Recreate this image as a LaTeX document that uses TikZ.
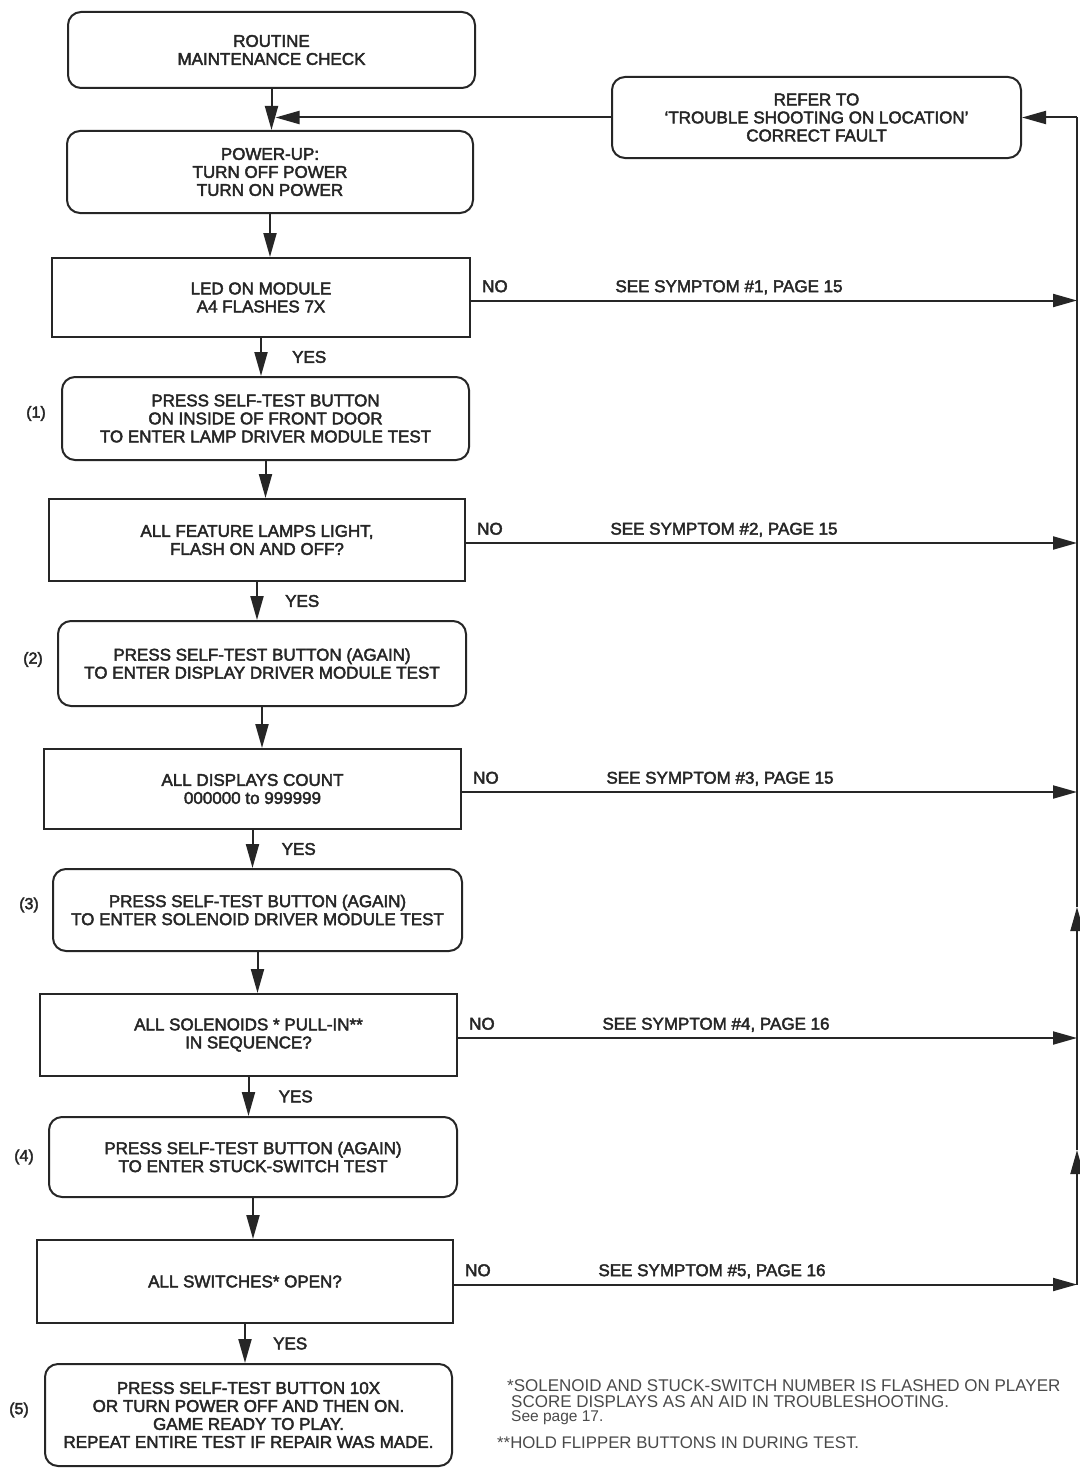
\documentclass[tikz,border=0pt]{standalone}
\usepackage{fontspec}
\setmainfont{Liberation Sans}
\newfontfamily\boxfont{Liberation Sans}[FakeBold=2.5]
\usetikzlibrary{arrows.meta,calc}
\definecolor{ink}{HTML}{262626}
\definecolor{note}{HTML}{4A4A4A}
\begin{document}
\begin{tikzpicture}[x=1pt,y=-1pt,
  every node/.style={text=ink, font=\boxfont\fontsize{17}{18}\selectfont},
  rbox/.style={draw=ink, line width=2pt, rounded corners=13pt, align=center, inner sep=0pt},
  dbox/.style={draw=ink, line width=2pt, align=center, inner sep=0pt},
  conn/.style={draw=ink, line width=2pt},
  arr/.style={conn, -{Triangle[length=24pt,width=13pt,fill=ink]}},
  lbl/.style={inner sep=0pt},
  yes/.style={lbl, anchor=west},
  num/.style={lbl, font=\boxfont\fontsize{16}{18}\selectfont},
  fn/.style={lbl, anchor=west, align=left, text=note, font=\fontsize{17}{16}\selectfont}
]
\useasboundingbox (0,0) rectangle (1079,1469);
\fill[white] (0,0) rectangle (1079,1469);
\coordinate (rail) at (1077,0);

% boxes
\node[rbox, minimum width=407pt, minimum height=76pt] (routine) at (271.5,50) {ROUTINE\\MAINTENANCE CHECK};
\node[rbox, minimum width=409pt, minimum height=81pt] (refer) at (816.5,117.5) {REFER TO\\‘TROUBLE SHOOTING ON LOCATION’\\CORRECT FAULT};
\node[rbox, minimum width=406pt, minimum height=82pt] (power) at (270,172) {POWER-UP:\\TURN OFF POWER\\TURN ON POWER};
\node[dbox, minimum width=418pt, minimum height=79pt] (led) at (261,297.5) {LED ON MODULE\\A4 FLASHES 7X};
\node[rbox, minimum width=407pt, minimum height=83pt] (p1) at (265.5,418.5) {PRESS SELF-TEST BUTTON\\ON INSIDE OF FRONT DOOR\\TO ENTER LAMP DRIVER MODULE TEST};
\node[dbox, minimum width=416pt, minimum height=82pt] (feat) at (257,540) {ALL FEATURE LAMPS LIGHT,\\FLASH ON AND OFF?};
\node[rbox, minimum width=408pt, minimum height=85pt] (p2) at (262,663.5) {PRESS SELF-TEST BUTTON (AGAIN)\\TO ENTER DISPLAY DRIVER MODULE TEST};
\node[dbox, minimum width=417pt, minimum height=80pt] (disp) at (252.5,789) {ALL DISPLAYS COUNT\\000000 to 999999};
\node[rbox, minimum width=409pt, minimum height=82pt] (p3) at (257.5,910) {PRESS SELF-TEST BUTTON (AGAIN)\\TO ENTER SOLENOID DRIVER MODULE TEST};
\node[dbox, minimum width=417pt, minimum height=82pt] (sol) at (248.5,1035) {ALL SOLENOIDS * PULL-IN**\\IN SEQUENCE?};
\node[rbox, minimum width=408pt, minimum height=80pt] (p4) at (253,1157) {PRESS SELF-TEST BUTTON (AGAIN)\\TO ENTER STUCK-SWITCH TEST};
\node[dbox, minimum width=416pt, minimum height=83pt] (sw) at (245,1281.5) {ALL SWITCHES* OPEN?};
\node[rbox, minimum width=407pt, minimum height=102pt] (p5) at (248.5,1415) {PRESS SELF-TEST BUTTON 10X\\OR TURN POWER OFF AND THEN ON.\\GAME READY TO PLAY.\\REPEAT ENTIRE TEST IF REPAIR WAS MADE.};

% step numbers
\node[num] (n1) at ($(p1.west)+(-25,-5)$) {(1)};
\node[num] (n2) at ($(p2.west)+(-24,-4)$) {(2)};
\node[num] (n3) at ($(p3.west)+(-23,-5)$) {(3)};
\node[num] (n4) at ($(p4.west)+(-24,0)$) {(4)};
\node[num] (n5) at ($(p5.west)+(-25,-5)$) {(5)};

% vertical flow
\coordinate (j) at (routine.south |- refer.west);
\draw[arr] (routine.south) -- (routine.south |- power.north);
\draw[arr] (power.south) -- (power.south |- led.north);
\draw[arr] (led.south) -- (led.south |- p1.north);
\draw[arr] (p1.south) -- (p1.south |- feat.north);
\draw[arr] (feat.south) -- (feat.south |- p2.north);
\draw[arr] (p2.south) -- (p2.south |- disp.north);
\draw[arr] (disp.south) -- (disp.south |- p3.north);
\draw[arr] (p3.south) -- (p3.south |- sol.north);
\draw[arr] (sol.south) -- (sol.south |- p4.north);
\draw[arr] (p4.south) -- (p4.south |- sw.north);
\draw[arr] (sw.south) -- (sw.south |- p5.north);

% YES labels
\node[yes] (y1) at ($(led.south)!0.5!(led.south |- p1.north)+(31,0)$) {YES};
\node[yes] (y2) at ($(feat.south)!0.5!(feat.south |- p2.north)+(28,0)$) {YES};
\node[yes] (y3) at ($(disp.south)!0.5!(disp.south |- p3.north)+(29,0)$) {YES};
\node[yes] (y4) at ($(sol.south)!0.5!(sol.south |- p4.north)+(30,0)$) {YES};
\node[yes] (y5) at ($(sw.south)!0.5!(sw.south |- p5.north)+(28,0)$) {YES};

% NO branches
\foreach \b/\t in {led/{SEE SYMPTOM \#1, PAGE 15},feat/{SEE SYMPTOM \#2, PAGE 15},disp/{SEE SYMPTOM \#3, PAGE 15},sol/{SEE SYMPTOM \#4, PAGE 16},sw/{SEE SYMPTOM \#5, PAGE 16}}{
  \draw[arr] ($(\b.east)+(0,3)$) -- ($(\b.east -| rail)+(0,3)$);
  \node[lbl, anchor=south west] (no-\b) at ($(\b.east)+(11,-5)$) {NO};
  \node[lbl, anchor=south] (see-\b) at ($(\b.east)+(258,-3)$) {\t};
}

% return rail
\coordinate (r0) at ($(sw.east -| rail)+(0,3)$);
\coordinate (r1) at (1077,1150);
\coordinate (r2) at (1077,907);
\coordinate (r3) at (refer.east -| rail);
\draw[arr] (r0) -- (r1);
\draw[arr] (r1) -- (r2);
\draw[conn] (r2) -- (r3);
\draw[arr] (r3) -- (refer.east);
\draw[arr, shorten >=4pt] (refer.west) -- (j);

% footnotes
\node[fn] (f1) at (507,1394) {*SOLENOID AND STUCK-SWITCH NUMBER IS FLASHED ON PLAYER\\\hspace*{4pt}SCORE DISPLAYS AS AN AID IN TROUBLESHOOTING.};
\node[fn, font=\fontsize{15.5}{16}\selectfont] (f2) at (511,1418) {See page 17.};
\node[fn, font=\fontsize{16.8}{16}\selectfont] (f3) at (497,1443) {**HOLD FLIPPER BUTTONS IN DURING TEST.};
\end{tikzpicture}
\end{document}
